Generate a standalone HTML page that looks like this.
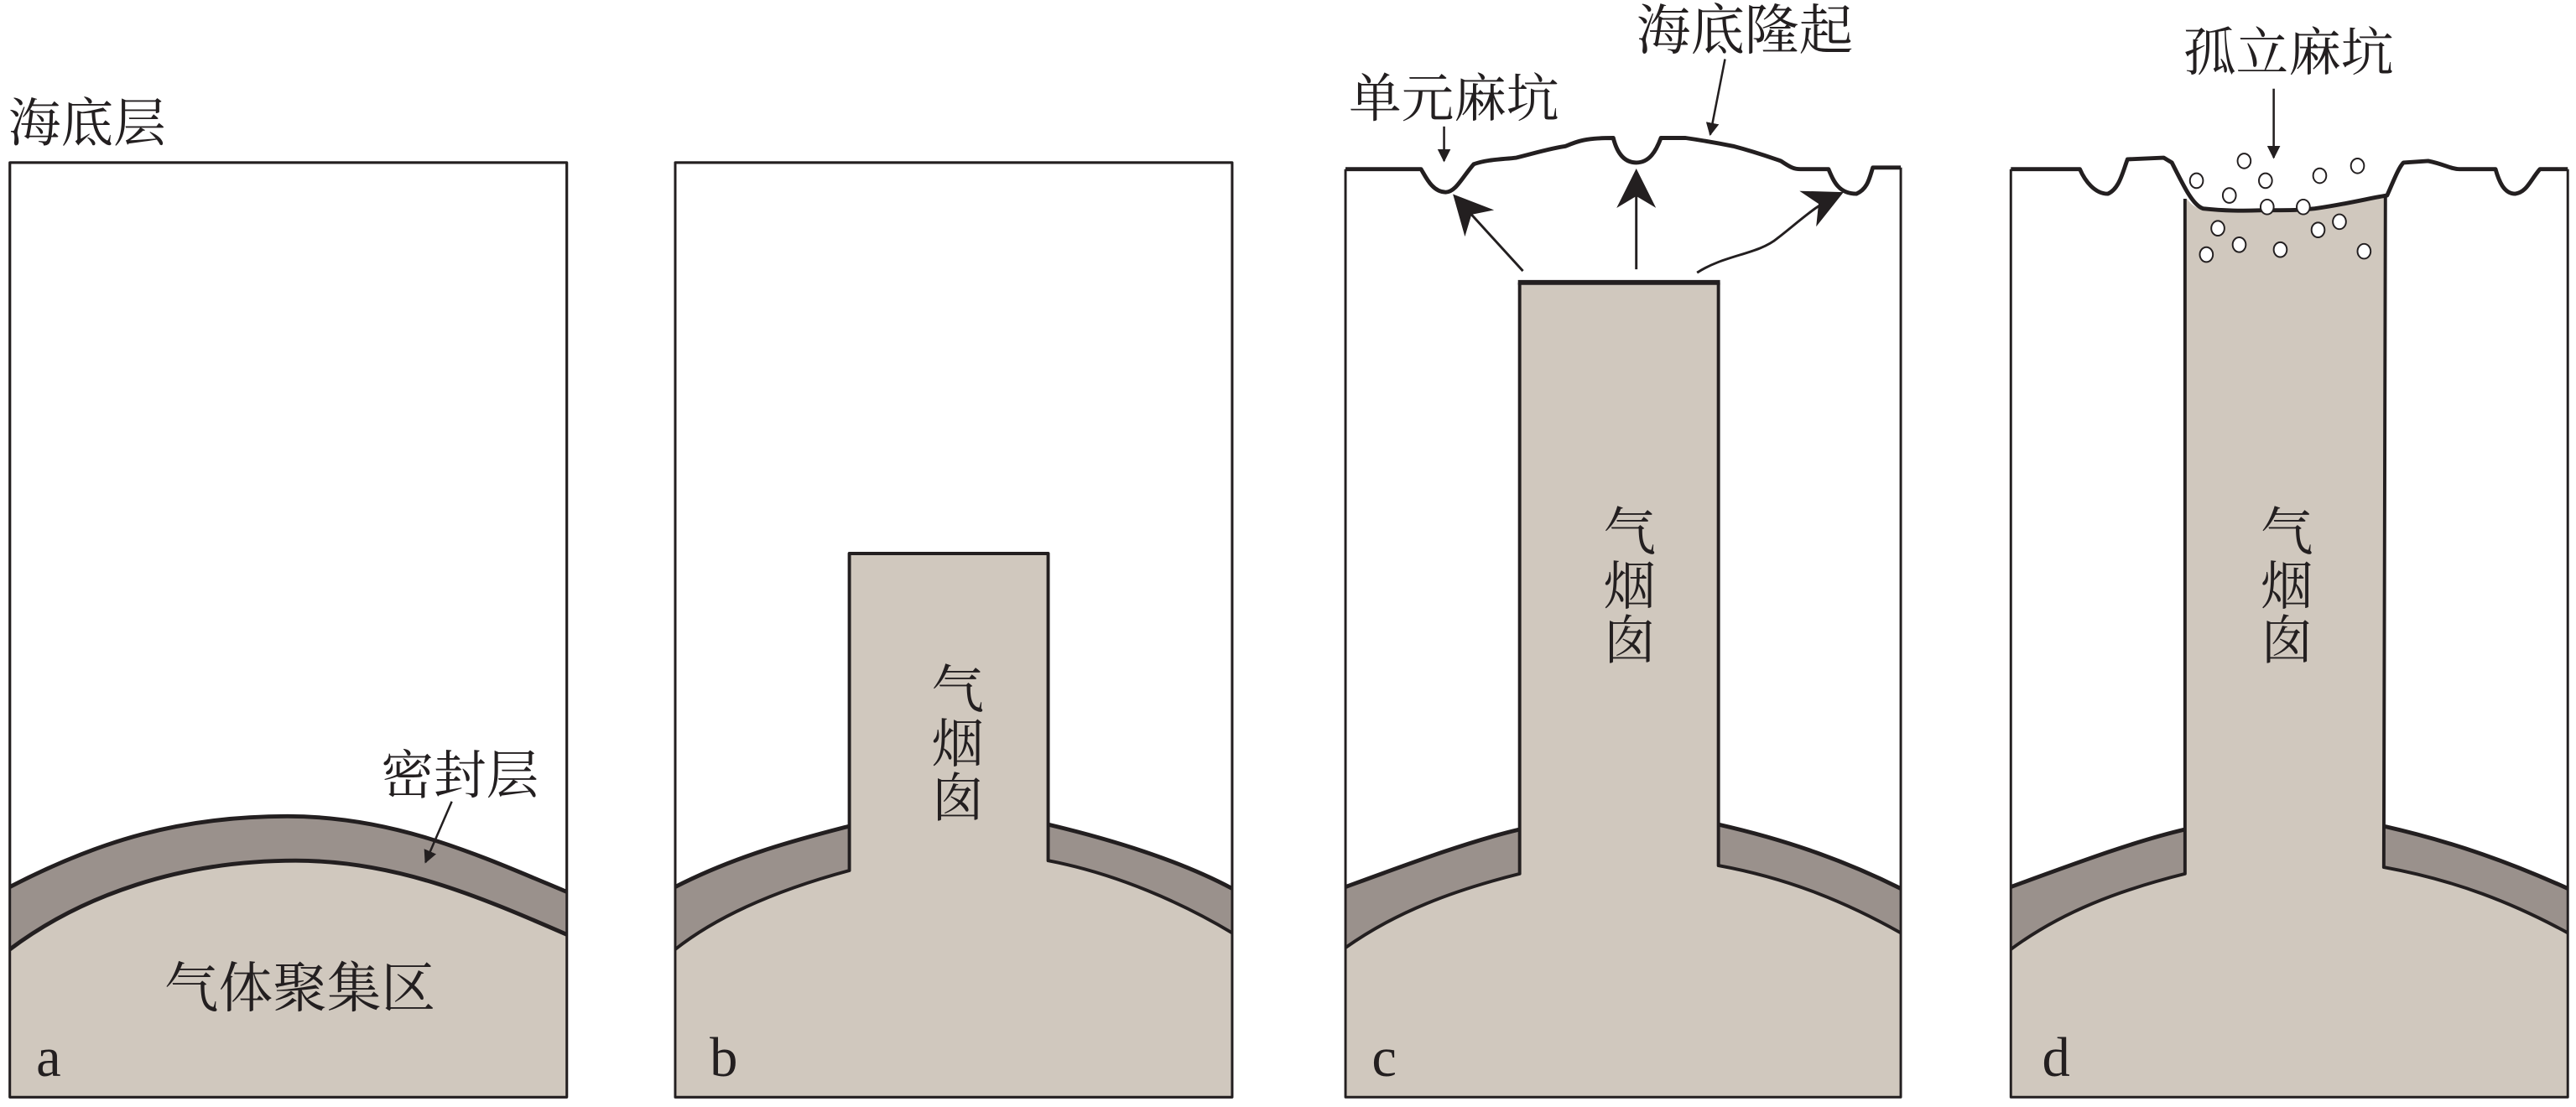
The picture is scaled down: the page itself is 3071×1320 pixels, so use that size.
<!DOCTYPE html>
<html><head><meta charset="utf-8"><style>
html,body{margin:0;padding:0;background:#fff}
svg{display:block}
text{font-family:"Liberation Serif","Noto Serif CJK SC",serif;fill:#231f20}
</style></head><body>
<svg width="3071" height="1320" viewBox="0 0 1568 674" preserveAspectRatio="none" xmlns="http://www.w3.org/2000/svg">
<defs>
<marker id="ah" viewBox="0 0 10 10" refX="9" refY="5" markerWidth="8" markerHeight="8" orient="auto" markerUnits="userSpaceOnUse"><path d="M0,0 L10,5 L0,10 z" fill="#231f20"/></marker>
<marker id="big" viewBox="0 0 10 10" refX="9" refY="5" markerWidth="30" markerHeight="24" orient="auto" markerUnits="userSpaceOnUse"><path d="M0,0 L10,5 L0,10 L3,5 z" fill="#231f20"/></marker>
</defs>
<g stroke="#231f20" stroke-linejoin="round">
<!-- Panel a -->
<rect x="6" y="99" width="339" height="569" fill="#fff" stroke-width="1.5"/>
<path d="M6,540 C60,512 110,497 175,497 C240,497 290,520 345,543 L345,569 C290,545 240,524 180,524 C110,524 50,545 6,578 Z" fill="#9a918c" stroke="none"/>
<path d="M6,578 C50,545 110,524 180,524 C240,524 290,545 345,569 L345,668 L6,668 Z" fill="#d0c8be" stroke="none"/>
<path d="M6,540 C60,512 110,497 175,497 C240,497 290,520 345,543" fill="none" stroke-width="2.5"/>
<path d="M6,578 C50,545 110,524 180,524 C240,524 290,545 345,569" fill="none" stroke-width="2.5"/>
<rect x="6" y="99" width="339" height="569" fill="none" stroke-width="1.5"/>
<line x1="275" y1="488" x2="259" y2="525" stroke-width="1.3" marker-end="url(#ah)"/>

<!-- Panel b -->
<rect x="411" y="99" width="339" height="569" fill="#fff" stroke-width="1.5"/>
<path d="M411,540 C450,520 490,510 517,503 L517,530 C480,540 440,555 411,578 Z" fill="#9a918c" stroke="none"/>
<path d="M638,502 C680,512 720,525 750,541 L750,568 C720,550 680,532 638,524 Z" fill="#9a918c" stroke="none"/>
<path d="M411,578 C440,555 480,540 517,530 L517,337 L638,337 L638,524 C680,532 720,550 750,568 L750,668 L411,668 Z" fill="#d0c8be" stroke="none"/>
<path d="M411,540 C450,520 490,510 517,503" fill="none" stroke-width="2.5"/>
<path d="M411,578 C440,555 480,540 517,530 L517,337 L638,337 L638,524 C680,532 720,550 750,568" fill="none" stroke-width="2"/>
<path d="M638,502 C680,512 720,525 750,541" fill="none" stroke-width="2.5"/>
<rect x="411" y="99" width="339" height="569" fill="none" stroke-width="1.5"/>

<!-- Panel c -->
<path d="M819,103 L865,103 C868,108 872,117 880,117 C886,117 890,108 897,100 C905,97 915,97 923,96 C935,93 945,90 953,89 C960,86 965,84 982,84 C984,92 988,99 996,99 C1004,99 1008,92 1011,84 L1026,84 C1040,86 1050,88 1055,89 C1070,93 1078,96 1084,98 C1090,102 1092,103 1096,103 L1113,103 C1116,110 1119,118 1130,118 C1137,115 1138,108 1140,102 L1157,102 L1157,668 L819,668 Z" fill="#fff" stroke="none"/>
<path d="M819,540 C860,525 895,512 925,505 L925,532 C885,542 850,555 819,577 Z" fill="#9a918c" stroke="none"/>
<path d="M1046,502 C1090,512 1125,525 1157,541 L1157,568 C1125,550 1090,535 1046,527 Z" fill="#9a918c" stroke="none"/>
<path d="M819,577 C850,555 885,542 925,532 L925,172 L1046,172 L1046,527 C1090,535 1125,550 1157,568 L1157,668 L819,668 Z" fill="#d0c8be" stroke="none"/>
<path d="M819,540 C860,525 895,512 925,505" fill="none" stroke-width="2.5"/>
<path d="M819,577 C850,555 885,542 925,532 L925,172" fill="none" stroke-width="2"/>
<line x1="924" y1="172" x2="1047" y2="172" stroke-width="3"/>
<path d="M1046,172 L1046,527 C1090,535 1125,550 1157,568" fill="none" stroke-width="2"/>
<path d="M1046,502 C1090,512 1125,525 1157,541" fill="none" stroke-width="2.5"/>
<path d="M819,103 L865,103 C868,108 872,117 880,117 C886,117 890,108 897,100 C905,97 915,97 923,96 C935,93 945,90 953,89 C960,86 965,84 982,84 C984,92 988,99 996,99 C1004,99 1008,92 1011,84 L1026,84 C1040,86 1050,88 1055,89 C1070,93 1078,96 1084,98 C1090,102 1092,103 1096,103 L1113,103 C1116,110 1119,118 1130,118 C1137,115 1138,108 1140,102 L1157,102" fill="none" stroke-width="2.5"/>
<path d="M819,103 L819,668 L1157,668 L1157,102" fill="none" stroke-width="1.5"/>
<line x1="927" y1="165" x2="886" y2="120" stroke-width="1.5" marker-end="url(#big)"/>
<line x1="996" y1="164" x2="996" y2="105" stroke-width="1.5" marker-end="url(#big)"/>
<path d="M1033,166 C1050,155 1070,155 1082,145 C1095,135 1105,125 1120,118" fill="none" stroke-width="1.5" marker-end="url(#big)"/>
<line x1="879" y1="77" x2="879" y2="98" stroke-width="1.3" marker-end="url(#ah)"/>
<line x1="1050" y1="36" x2="1041" y2="82" stroke-width="1.3" marker-end="url(#ah)"/>

<!-- Panel d -->
<path d="M1224,103 L1266,103 C1269,110 1275,118 1283,118 C1290,115 1292,105 1295,97 L1317,96 L1322,99 C1330,115 1335,125 1341,127 C1360,129 1370,128 1380,128 C1395,128 1400,128 1409,127 C1430,124 1445,120 1453,119 C1457,110 1460,102 1463,99 L1478,98 C1488,100 1492,103 1497,103 L1519,103 C1521,110 1524,118 1531,118 C1538,117 1540,110 1546,103 L1563,103 L1563,668 L1224,668 Z" fill="#fff" stroke="none"/>
<path d="M1224,540 C1265,525 1300,512 1330,505 L1330,532 C1290,542 1255,555 1224,578 Z" fill="#9a918c" stroke="none"/>
<path d="M1451,503 C1495,513 1530,526 1563,541 L1563,568 C1530,550 1495,536 1451,528 Z" fill="#9a918c" stroke="none"/>
<path d="M1224,578 C1255,555 1290,542 1330,532 L1331,121 C1335,126 1338,127 1341,127 C1360,129 1370,128 1380,128 C1395,128 1400,128 1409,127 C1430,124 1445,120 1452,119 L1451,528 C1495,536 1530,550 1563,568 L1563,668 L1224,668 Z" fill="#d0c8be" stroke="none"/>
<path d="M1224,540 C1265,525 1300,512 1330,505" fill="none" stroke-width="2.5"/>
<path d="M1224,578 C1255,555 1290,542 1330,532 L1330,121" fill="none" stroke-width="2"/>
<path d="M1452,119 L1451,528 C1495,536 1530,550 1563,568" fill="none" stroke-width="2"/>
<path d="M1451,503 C1495,513 1530,526 1563,541" fill="none" stroke-width="2.5"/>
<path d="M1224,103 L1266,103 C1269,110 1275,118 1283,118 C1290,115 1292,105 1295,97 L1317,96 L1322,99 C1330,115 1335,125 1341,127 C1360,129 1370,128 1380,128 C1395,128 1400,128 1409,127 C1430,124 1445,120 1453,119 C1457,110 1460,102 1463,99 L1478,98 C1488,100 1492,103 1497,103 L1519,103 C1521,110 1524,118 1531,118 C1538,117 1540,110 1546,103 L1563,103" fill="none" stroke-width="2.5"/>
<path d="M1224,103 L1224,668 L1563,668 L1563,103" fill="none" stroke-width="1.5"/>
<g fill="#fff" stroke-width="1">
<ellipse cx="1366" cy="98" rx="4" ry="4.5"/><ellipse cx="1337" cy="110" rx="4" ry="4.5"/>
<ellipse cx="1379" cy="110" rx="4" ry="4.5"/><ellipse cx="1412" cy="107" rx="4" ry="4.5"/>
<ellipse cx="1435" cy="101" rx="4" ry="4.5"/><ellipse cx="1357" cy="119" rx="4" ry="4.5"/>
<ellipse cx="1380" cy="126" rx="4" ry="4.5"/><ellipse cx="1402" cy="126" rx="4" ry="4.5"/>
<ellipse cx="1424" cy="135" rx="4" ry="4.5"/><ellipse cx="1350" cy="139" rx="4" ry="4.5"/>
<ellipse cx="1411" cy="140" rx="4" ry="4.5"/><ellipse cx="1363" cy="149" rx="4" ry="4.5"/>
<ellipse cx="1388" cy="152" rx="4" ry="4.5"/><ellipse cx="1439" cy="153" rx="4" ry="4.5"/>
<ellipse cx="1343" cy="155" rx="4" ry="4.5"/>
</g>
<line x1="1384" y1="54" x2="1384" y2="96" stroke-width="1.3" marker-end="url(#ah)"/>
</g>

<g font-size="32">
<text x="5" y="86">海底层</text>
<text x="232" y="483">密封层</text>
<text x="100" y="613" font-size="33">气体聚集区</text>
<text x="821" y="71" font-size="32">单元麻坑</text>
<text x="996" y="30" font-size="33">海底隆起</text>
<text x="1329" y="43" font-size="32">孤立麻坑</text>
<g text-anchor="middle">
<text x="583" y="431">气</text><text x="583" y="464">烟</text><text x="583" y="497">囱</text>
<text x="992" y="335">气</text><text x="992" y="368">烟</text><text x="992" y="401">囱</text>
<text x="1392" y="335">气</text><text x="1392" y="368">烟</text><text x="1392" y="401">囱</text>
</g>
<g font-size="34">
<text x="22" y="655">a</text>
<text x="432" y="655">b</text>
<text x="835" y="655">c</text>
<text x="1243" y="655">d</text>
</g>
</g>
</svg>
</body></html>
